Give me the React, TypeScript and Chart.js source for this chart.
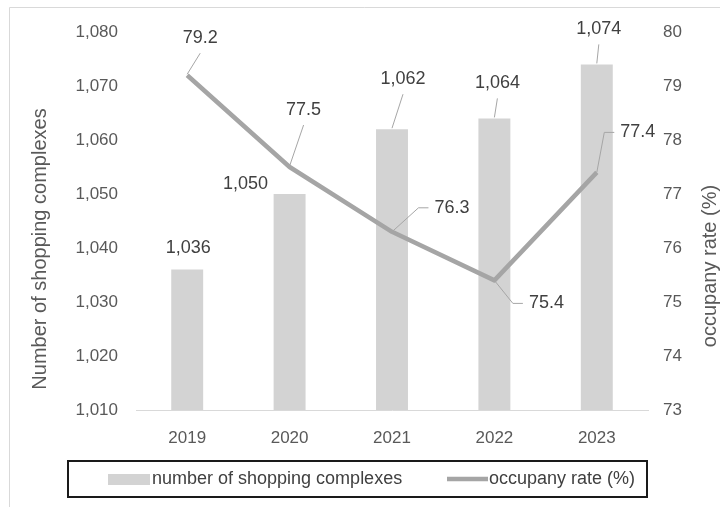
import React, { useEffect, useRef } from "react";
import { Chart, registerables } from "chart.js";

Chart.register(...registerables);

// ---- data ----
const years = ["2019", "2020", "2021", "2022", "2023"];
const complexes = [1036, 1050, 1062, 1064, 1074];
const occupancy = [79.2, 77.5, 76.3, 75.4, 77.4];
const leftAxisRange = [1010, 1080];
const rightAxisRange = [73, 80];
const seriesNames = ["number of shopping complexes", "occupany rate (%)"];
const leftTitle = "Number of shopping complexes";
const rightTitle = "occupany rate (%)";

// ---- label styling (offsets from the mark, in px) ----
// [dx, dy, leader] leader: 0 none, 1 straight up to label, 2 elbow into left side of label
const barLabelStyle = [
  [1, -22, 0],
  [-44, -10, 0],
  [11, -50, 1],
  [3, -35, 1],
  [2, -35, 1],
];
const lineLabelStyle = [
  [13, -37, 1],
  [14, -57, 1],
  [60, -24, 2],
  [52, 23, 2],
  [41, -40, 2],
];

const FONT = "'Liberation Sans', Arial, sans-serif";
const TICK_COLOR = "#595959";
const LABEL_COLOR = "#404040";
const BAR_COLOR = "#d3d3d3";
const LINE_COLOR = "#a5a5a5";
const LEADER_COLOR = "#a6a6a6";

const fmt = (v: number) => v.toLocaleString("en-US");

const drawLabel = (
  ctx: CanvasRenderingContext2D,
  px: number,
  py: number,
  text: string,
  style: number[]
) => {
  const [dx, dy, leader] = style;
  const lx = px + dx;
  const ly = py + dy;
  ctx.font = `18px ${FONT}`;
  const w = ctx.measureText(text).width;
  ctx.strokeStyle = LEADER_COLOR;
  ctx.lineWidth = 1;
  if (leader === 1) {
    ctx.beginPath();
    ctx.moveTo(px, py - 1);
    ctx.lineTo(lx, ly + 15);
    ctx.stroke();
  } else if (leader === 2) {
    const ex = lx - w / 2 - 6;
    ctx.beginPath();
    ctx.moveTo(px, py);
    ctx.lineTo(ex - 10, ly);
    ctx.lineTo(ex, ly);
    ctx.stroke();
  }
  ctx.fillStyle = LABEL_COLOR;
  ctx.textAlign = "center";
  ctx.textBaseline = "middle";
  ctx.fillText(text, lx, ly);
};

const decorPlugin = {
  id: "decor",
  beforeDraw(chart: any) {
    const ctx = chart.ctx as CanvasRenderingContext2D;
    ctx.save();
    ctx.fillStyle = "#ffffff";
    ctx.fillRect(0, 0, chart.width, chart.height);
    ctx.strokeStyle = "#d9d9d9";
    ctx.lineWidth = 1;
    ctx.beginPath();
    ctx.moveTo(9.5, chart.height);
    ctx.lineTo(9.5, 7.5);
    ctx.lineTo(chart.width, 7.5);
    ctx.stroke();
    ctx.restore();
  },
  afterDatasetsDraw(chart: any) {
    const ctx = chart.ctx as CanvasRenderingContext2D;
    ctx.save();
    const lineMeta = chart.getDatasetMeta(0);
    const barMeta = chart.getDatasetMeta(1);
    barMeta.data.forEach((el: any, i: number) => {
      drawLabel(ctx, el.x, el.y, fmt(complexes[i]), barLabelStyle[i]);
    });
    lineMeta.data.forEach((el: any, i: number) => {
      drawLabel(ctx, el.x, el.y, occupancy[i].toFixed(1), lineLabelStyle[i]);
    });

    // axis titles
    ctx.fillStyle = TICK_COLOR;
    ctx.font = `20px ${FONT}`;
    ctx.textAlign = "center";
    ctx.textBaseline = "middle";
    ctx.save();
    ctx.translate(40, 249);
    ctx.rotate(-Math.PI / 2);
    ctx.fillText(leftTitle, 0, 0);
    ctx.restore();
    ctx.save();
    ctx.translate(710, 266);
    ctx.rotate(-Math.PI / 2);
    ctx.fillText(rightTitle, 0, 0);
    ctx.restore();

    // legend
    const bx = 68, by = 461, bw = 579, bh = 36;
    ctx.strokeStyle = "#1a1a1a";
    ctx.lineWidth = 2;
    ctx.strokeRect(bx, by, bw, bh);
    const cy = by + bh / 2;
    ctx.fillStyle = BAR_COLOR;
    ctx.fillRect(108, cy - 5, 42, 11);
    ctx.strokeStyle = LINE_COLOR;
    ctx.lineWidth = 4.5;
    ctx.beginPath();
    ctx.moveTo(447, cy);
    ctx.lineTo(488, cy);
    ctx.stroke();
    ctx.fillStyle = LABEL_COLOR;
    ctx.font = `18px ${FONT}`;
    ctx.textAlign = "left";
    ctx.textBaseline = "middle";
    ctx.fillText(seriesNames[0], 152, cy);
    ctx.fillText(seriesNames[1], 489, cy);
    ctx.restore();
  },
};

export default function App() {
  const ref = useRef<HTMLCanvasElement | null>(null);
  useEffect(() => {
    document.body.style.margin = "0";
    if (!ref.current) return;
    const chart = new Chart(ref.current, {
      type: "bar",
      data: {
        labels: years,
        datasets: [
          {
            type: "line",
            label: seriesNames[1],
            data: occupancy,
            yAxisID: "y1",
            borderColor: LINE_COLOR,
            backgroundColor: LINE_COLOR,
            borderWidth: 4.5,
            pointRadius: 0,
            tension: 0,
            order: 0,
            borderJoinStyle: "round",
          } as any,
          {
            type: "bar",
            label: seriesNames[0],
            data: complexes,
            yAxisID: "y",
            backgroundColor: BAR_COLOR,
            borderWidth: 0,
            categoryPercentage: 1,
            barPercentage: 0.312,
            order: 1,
          },
        ],
      },
      options: {
        responsive: false,
        maintainAspectRatio: false,
        animation: false,
        devicePixelRatio: 1,
        layout: { padding: { top: 32, bottom: 57, left: 0, right: 0 } },
        plugins: { legend: { display: false }, tooltip: { enabled: false } },
        scales: {
          x: {
            offset: true,
            grid: { display: false, drawTicks: false },
            border: { display: true, color: "#d9d9d9", width: 1 },
            ticks: {
              color: TICK_COLOR,
              font: { family: FONT, size: 17 },
              padding: 18,
              maxRotation: 0,
            },
            afterFit: (s: any) => {
              s.height = 40;
            },
          },
          y: {
            position: "left",
            min: leftAxisRange[0],
            max: leftAxisRange[1],
            grid: { display: false, drawTicks: false },
            border: { display: false },
            ticks: {
              stepSize: 10,
              color: TICK_COLOR,
              font: { family: FONT, size: 17 },
              padding: 18,
              callback: (v: any) => fmt(Number(v)),
            },
            afterFit: (s: any) => {
              s.width = 136;
            },
          },
          y1: {
            position: "right",
            min: rightAxisRange[0],
            max: rightAxisRange[1],
            grid: { display: false, drawTicks: false },
            border: { display: false },
            ticks: {
              stepSize: 1,
              color: TICK_COLOR,
              font: { family: FONT, size: 17 },
              padding: 15,
            },
            afterFit: (s: any) => {
              s.width = 72;
            },
          },
        },
      },
      plugins: [decorPlugin],
    });
    return () => chart.destroy();
  }, []);
  return (
    <div style={{ width: 720, height: 507 }}>
      <canvas ref={ref} width={720} height={507} style={{ display: "block" }} />
    </div>
  );
}
